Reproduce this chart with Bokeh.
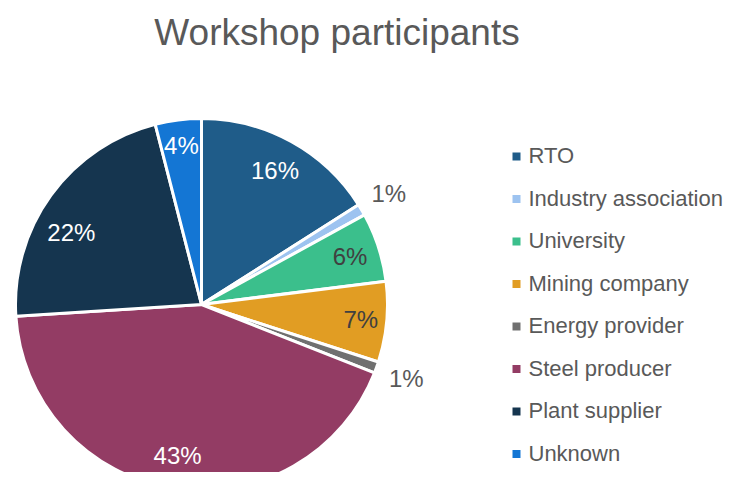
import numpy as np
from bokeh.plotting import figure
from bokeh.models import Range1d, ColumnDataSource
from bokeh.core.properties import value
from bokeh.embed import file_html
from bokeh.resources import INLINE

# ---- data ----
title_text = "Workshop participants"
categories = ["RTO", "Industry association", "University", "Mining company",
              "Energy provider", "Steel producer", "Plant supplier", "Unknown"]
shares = [16, 1, 6, 7, 1, 43, 22, 4]

# ---- styles ----
colors = ["#1F5C89", "#9DC3F0", "#3BBF8C", "#E19D23",
          "#707070", "#933C64", "#15354F", "#1476D4"]
label_colors = ["#FFFFFF", "#595959", "#404040", "#404040",
                "#595959", "#FFFFFF", "#FFFFFF", "#FFFFFF"]
# label placement (fraction of radius, angular nudge in degrees)
label_radius = [0.82, 1.17, 0.84, 0.86, 1.17, 0.82, 0.80, 0.86]
label_nudge = [0, 0, 0, 0, 0, 0, 7, 0]

H = 488
p = figure(width=723, height=472, output_backend="svg", toolbar_location=None,
           x_range=Range1d(0, 723), y_range=Range1d(16, 488), min_border=0)
p.axis.visible = False
p.grid.visible = False
p.outline_line_color = None

cx, cy, R = 201, H - 304, 186

vals = np.array(shares, dtype=float)
frac = vals / vals.sum()
cum_end = np.cumsum(frac)
cum_start = cum_end - frac
start = np.pi / 2 - 2 * np.pi * cum_start
end = np.pi / 2 - 2 * np.pi * cum_end
mid = (start + end) / 2 + np.radians(label_nudge)

src = ColumnDataSource(dict(start=start, end=end, color=colors))
p.wedge(x=cx, y=cy, radius=R, start_angle="start", end_angle="end",
        direction="clock", fill_color="color", line_color="white",
        line_width=3, source=src)

rfac = np.array(label_radius)
lx = cx + R * rfac * np.cos(mid)
ly = cy + R * rfac * np.sin(mid)
labels = [f"{s:.0f}%" for s in vals / vals.sum() * 100]
lsrc = ColumnDataSource(dict(x=lx, y=ly, t=labels, c=label_colors))
p.text(x="x", y="y", text="t", text_color="c", source=lsrc,
       text_font=value("Liberation Sans"), text_font_size="24px",
       text_align="center", text_baseline="middle")

# title
p.text(x=[336.5], y=[H - 32], text=[title_text], text_color="#595959",
       text_font=value("Liberation Sans"), text_font_size="37px",
       text_align="center", text_baseline="middle")

# legend
idx = np.arange(len(categories))
ly_leg = H - (156 + idx * 42.5)
p.scatter(x=516, y=ly_leg, marker="square", size=8, fill_color=colors,
          line_color=None)
p.text(x=528, y=ly_leg + 1, text=categories, text_color="#595959",
       text_font=value("Liberation Sans"), text_font_size="22px",
       text_align="left", text_baseline="middle")

open("out.html", "w").write(file_html(p, INLINE))
